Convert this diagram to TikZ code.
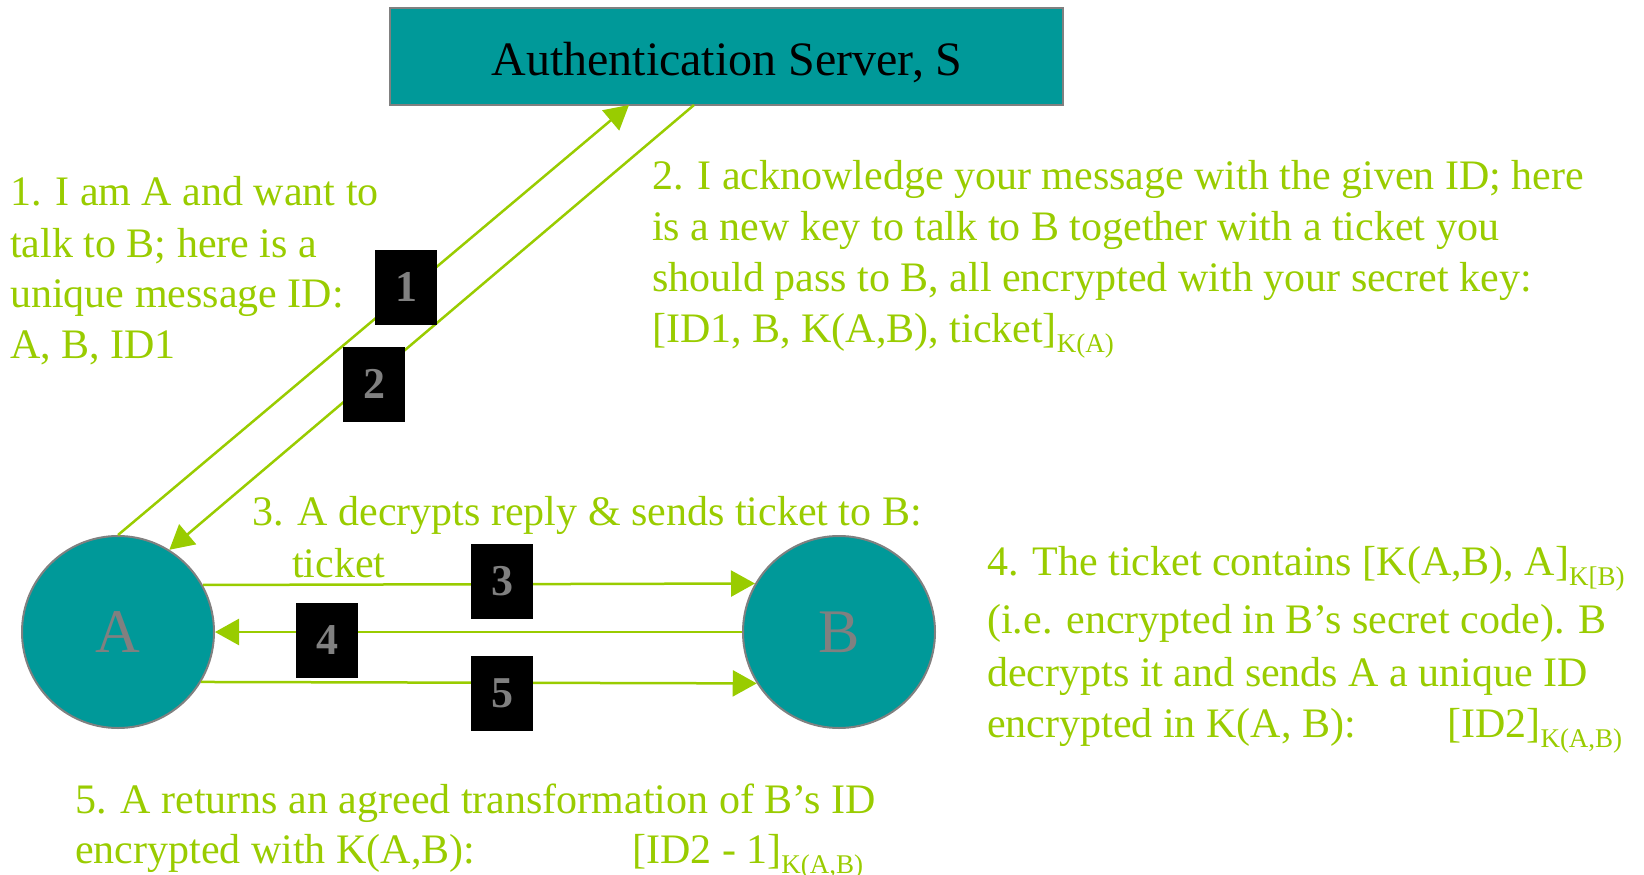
\documentclass[tikz,border=0pt]{standalone}
\usepackage{fontspec}
\setmainfont{Liberation Serif}
\usetikzlibrary{arrows.meta}
\definecolor{srvteal}{HTML}{009999}
\definecolor{msggreen}{HTML}{99CC00}
\definecolor{rimgray}{HTML}{808080}
% lowered, smaller key name after an encrypted bracket
\newcommand\encsub[1]{\raisebox{-10pt}{\fontsize{27}{27}\selectfont #1}}
\begin{document}
\begin{tikzpicture}[x=1pt,y=-1pt,
  msg/.style={anchor=base west, inner sep=0pt, text=msggreen, font=\fontsize{42}{50}\selectfont},
  party/.style={circle, fill=srvteal, draw=rimgray, line width=2pt, minimum size=192pt, inner sep=0pt, text=rimgray, font=\fontsize{62}{62}\selectfont},
  flow/.style={draw=msggreen, line width=2.5pt, -{Triangle[length=24pt,width=26pt]}},
  stepno/.style={fill=black, minimum width=62pt, minimum height=75pt, inner sep=0pt, text=rimgray, font=\fontsize{44}{44}\selectfont\bfseries},
]
\useasboundingbox (0,0) rectangle (1644,875);

% server and the two parties
\node[draw=rimgray, fill=srvteal, line width=2.5pt, minimum width=673pt, minimum height=97pt, inner sep=0pt] (S) at (726.5,56.5) {};
\node[anchor=base, inner sep=0pt, font=\fontsize{48}{48}\selectfont] (Sname) at (727,76) {Authentication Server, S};
\node[party] (A) at (118,632) {A};
\node[party] (B) at (839,632) {B};
\coordinate (s1) at (629,105);
\coordinate (s2) at (694,105);

% message flows
\draw[flow] (A.north) -- (s1);
\draw[flow] (s2) -- (A.58.6);
\draw[flow] (A.29.3) -- (B.150.7);
\draw[flow] (B.180) -- (A.0);
\draw[flow] (A.-31.4) -- (B.-148.6);

% step numbers
\node[stepno] (n1) at (406,287) {1};
\node[stepno] (n2) at (374,384) {2};
\node[stepno] (n3) at (502,581) {3};
\node[stepno] (n4) at (327,640) {4};
\node[stepno] (n5) at (502,693) {5};

% step 1
\node[msg] (t1a) at (10,205) {1. I am A and want to};
\node[msg] (t1b) at (10,257) {talk to B; here is a};
\node[msg] (t1c) at (10,307) {unique message ID:};
\node[msg] (t1d) at (10,358) {A, B, ID1};

% step 2
\node[msg] (t2a) at (652,189) {2. I acknowledge your message with the given ID; here};
\node[msg] (t2b) at (652,240) {is a new key to talk to B together with a ticket you};
\node[msg] (t2c) at (652,291) {should pass to B, all encrypted with your secret key:};
\node[msg] (t2d) at (652,342) {[ID1, B, K(A,B), ticket]\encsub{K(A)}};

% step 3
\node[msg] (t3a) at (252,525) {3. A decrypts reply \& sends ticket to B:};
\node[msg] (t3b) at (292,577) {ticket};

% step 4
\node[msg] (t4a) at (987,575) {4. The ticket contains [K(A,B), A]\encsub{K[B)}};
\node[msg] (t4b) at (987,633) {(i.e. encrypted in B’s secret code). B};
\node[msg] (t4c) at (987,686) {decrypts it and sends A a unique ID};
\node[msg] (t4d) at (987,737) {encrypted in K(A, B):};
\node[msg] (t4e) at (1447,737) {[ID2]\encsub{K(A,B)}};

% step 5
\node[msg] (t5a) at (75,813) {5. A returns an agreed transformation of B’s ID};
\node[msg] (t5b) at (75,863) {encrypted with K(A,B):};
\node[msg] (t5c) at (632,863) {[ID2 - 1]\encsub{K(A,B)}};
\end{tikzpicture}
\end{document}
